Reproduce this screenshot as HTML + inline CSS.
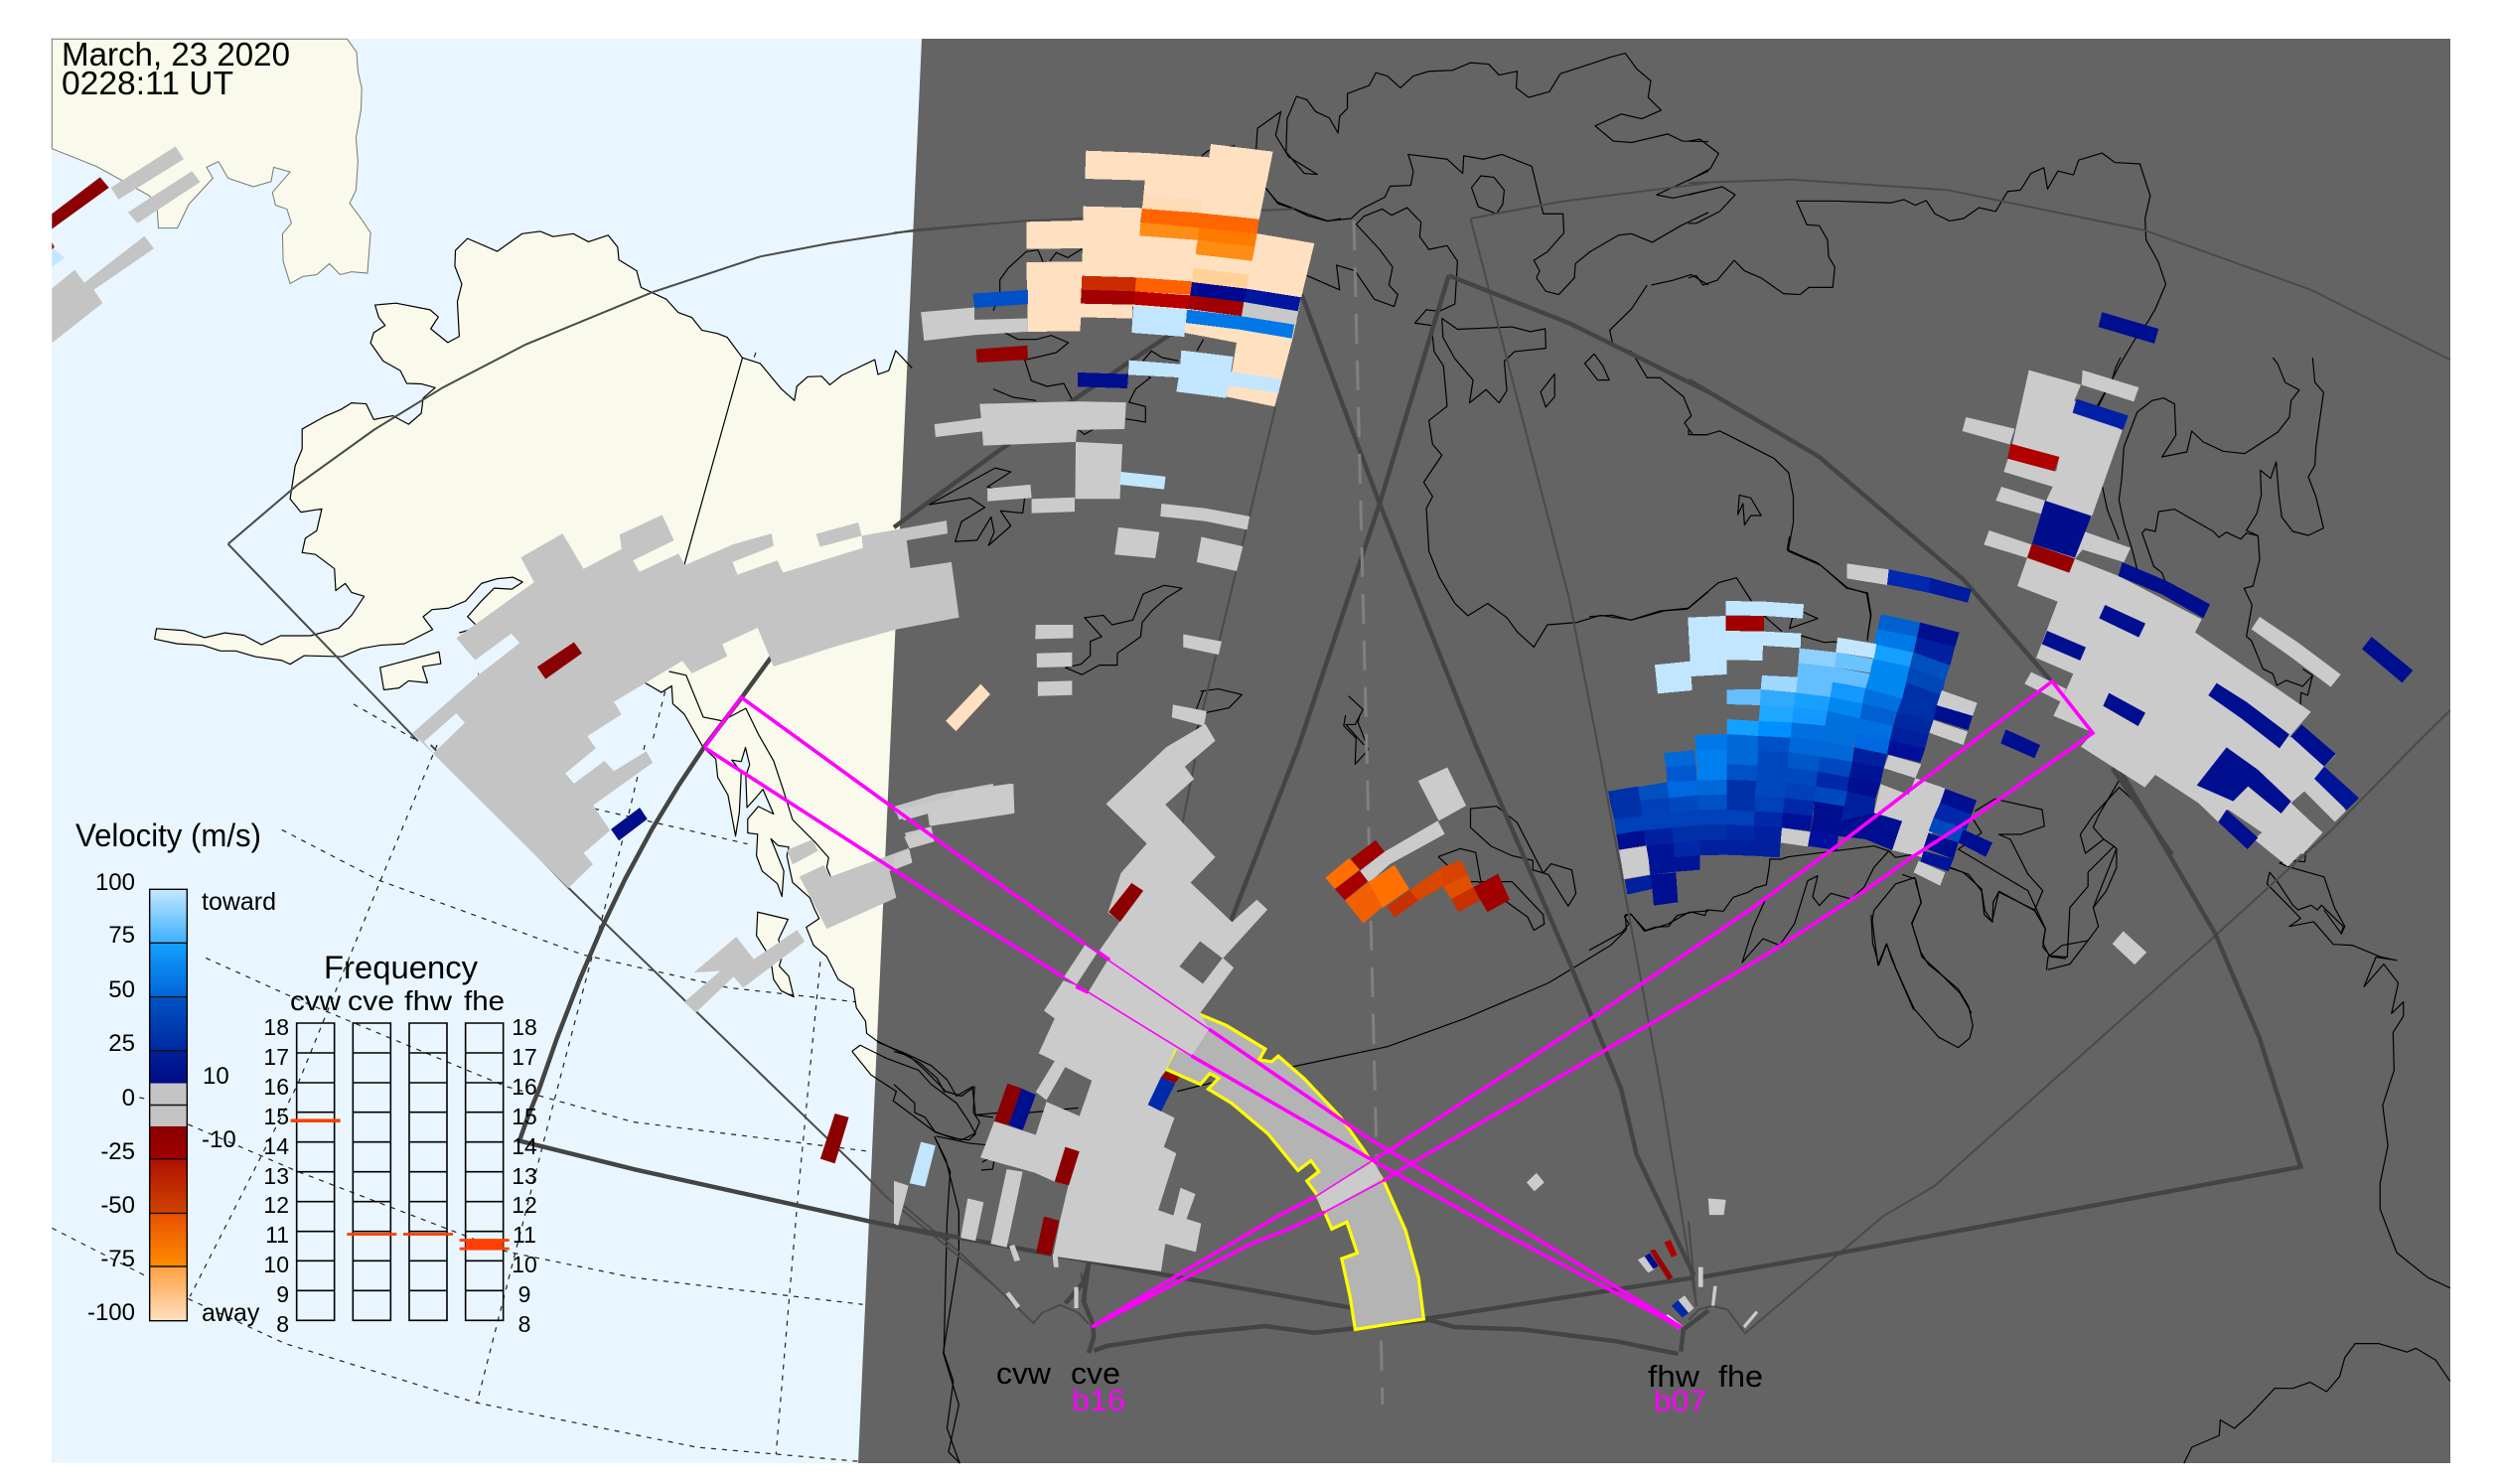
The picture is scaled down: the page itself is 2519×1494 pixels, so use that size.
<!DOCTYPE html>
<html><head><meta charset="utf-8"><title>SuperDARN velocity map</title>
<style>
html,body{margin:0;padding:0;background:#fff}
svg{display:block}
text{font-family:"Liberation Sans",sans-serif;fill:#000}
polyline,.l{fill:none;vector-effect:non-scaling-stroke}
.c polyline,.c polygon{stroke:#000;stroke-width:1.2;fill:none;vector-effect:non-scaling-stroke;stroke-linejoin:round}
.d polyline{stroke:#222;stroke-width:1.2;stroke-dasharray:5 6}
.t polyline{stroke:#4a4a4a;stroke-width:2}
.k polyline{stroke:#444;stroke-width:4.5;stroke-linejoin:miter}
.m polyline{stroke:#f0f;stroke-width:3.6;stroke-linejoin:miter}
.n polyline{stroke:#f0f;stroke-width:1.6}
.g polygon{fill:#cbcbcb}
.h polygon{fill:#c4c4c4}
.x polygon{shape-rendering:crispEdges}
</style></head><body>
<svg width="2519" height="1494" viewBox="0 0 2519 1494" xmlns="http://www.w3.org/2000/svg">
<defs>
<linearGradient id="b1" x1="0" y1="0" x2="0" y2="1"><stop offset="0" stop-color="#c4e8ff"/><stop offset="1" stop-color="#3cb0ff"/></linearGradient>
<linearGradient id="b2" x1="0" y1="0" x2="0" y2="1"><stop offset="0" stop-color="#14a0ff"/><stop offset="1" stop-color="#0066d8"/></linearGradient>
<linearGradient id="b3" x1="0" y1="0" x2="0" y2="1"><stop offset="0" stop-color="#0054c4"/><stop offset="1" stop-color="#0028a0"/></linearGradient>
<linearGradient id="b4" x1="0" y1="0" x2="0" y2="1"><stop offset="0" stop-color="#00209a"/><stop offset="1" stop-color="#000c84"/></linearGradient>
<linearGradient id="b5" x1="0" y1="0" x2="0" y2="1"><stop offset="0" stop-color="#8b0000"/><stop offset="1" stop-color="#a00000"/></linearGradient>
<linearGradient id="b6" x1="0" y1="0" x2="0" y2="1"><stop offset="0" stop-color="#b01000"/><stop offset="1" stop-color="#d04400"/></linearGradient>
<linearGradient id="b7" x1="0" y1="0" x2="0" y2="1"><stop offset="0" stop-color="#e85000"/><stop offset="1" stop-color="#ff8c00"/></linearGradient>
<linearGradient id="b8" x1="0" y1="0" x2="0" y2="1"><stop offset="0" stop-color="#ffa040"/><stop offset="1" stop-color="#ffe0c0"/></linearGradient>
</defs>
<rect width="2519" height="1494" fill="#fff"/>
<rect x="52" y="39" width="2415" height="1434" fill="#e9f6ff"/>

<!-- land -->
<g transform="scale(.63776,.47832)" fill="#f9faeb">
<polygon stroke="#777" stroke-width="1" vector-effect="non-scaling-stroke" points="548,82 563,110 565,150 571,185 570,230 562,290 565,340 562,400 552,428 570,460 585,490 580,575 555,572 537,578 520,555 500,578 478,582 458,597 447,550 446,492 460,470 453,440 435,432 430,405 458,362 432,352 428,382 400,393 360,375 345,340 326,352 336,375 298,430 280,480 250,480 248,435 236,412 152,350 82,313 82,82"/>
<polygon points="1500,770 1440,775 1414,738 1403,780 1386,788 1381,757 1329,790 1310,810 1297,792 1275,793 1258,813 1254,843 1233,818 1200,765 1172,753 1148,710 1133,702 1108,695 1092,668 1071,658 1052,630 1012,605 1005,570 977,547 975,520 960,495 929,509 905,492 873,498 853,487 824,492 785,529 738,502 719,527 718,560 729,598 722,635 725,708 707,721 680,692 692,667 679,652 625,638 592,642 598,668 608,685 590,700 585,722 605,760 632,780 642,807 665,808 687,816 668,838 665,870 645,893 620,875 590,883 578,850 555,848 538,862 512,877 477,903 477,945 466,980 458,1050 475,1078 508,1071 500,1117 482,1133 477,1163 498,1167 528,1197 530,1243 545,1228 555,1247 575,1255 555,1295 535,1322 490,1338 443,1338 413,1357 385,1337 355,1332 323,1342 290,1327 247,1323 244,1345 280,1355 320,1358 348,1370 372,1370 403,1382 445,1390 458,1398 480,1380 540,1382 570,1365 600,1358 638,1355 683,1325 668,1298 682,1283 708,1280 735,1265 760,1228 785,1218 810,1215 825,1225 808,1240 780,1238 760,1265 738,1298 755,1320 725,1332 1018,1437 1500,1500"/>
<polygon points="600,1405 693,1372 696,1397 667,1403 675,1437 645,1433 630,1448 606,1452"/>
</g>
<g transform="translate(400,500) scale(.38265)" fill="#f9faeb">
<polygon points="652,490 695,515 722,498 725,545 755,572 805,660 838,690 843,738 870,785 890,893 900,830 905,725 880,693 905,697 916,660 927,705 917,735 920,818 945,790 962,770 990,835 950,815 922,848 922,885 948,888 945,945 960,985 1000,1018 1012,1052 1017,985 983,900 1002,918 1030,922 1025,945 1040,1015 1085,1055 1100,1090 1110,1110 1076,1133 1095,1180 1130,1210 1160,1270 1200,1295 1208,1345 1232,1380 1235,1412 1262,1432 1320,1460 1500,1568 1500,400"/>
<polygon points="948,1093 1028,1112 1003,1165 1015,1200 1005,1235 1030,1262 1043,1316 1010,1300 990,1270 985,1235 970,1195 945,1155"/>
<polygon points="1195,1458 1222,1443 1300,1470 1300,1560 1225,1500"/>
</g>

<!-- night side -->
<polygon points="928,39 2467,39 2467,1473 864,1473" fill="#646464"/>

<!-- dotted lat/lon grid -->
<g class="d" transform="translate(0,750) scale(.63776,.47449)">
<polyline points="445,180 600,288 920,445 1150,515 1350,545"/>
<polyline points="325,452 470,540 800,725 1000,800 1370,862"/>
<polyline points="220,748 235,752"/>
<polyline points="297,805 470,905 800,1075 1000,1130 1362,1187"/>
<polyline points="82,1025 235,1130"/>
<polyline points="297,1175 450,1270 750,1395 1100,1490 1355,1520"/>
<polyline points="938,135 1180,210"/>
<polyline points="690,0 600,290 470,720 300,1170"/>
<polyline points="1018,0 985,190 870,780 753,1395"/>
<polyline points="1295,460 1260,950 1225,1505"/>
</g>
<g class="d" transform="scale(.63776,.47832)">
<polyline points="558,1482 660,1560"/>
<polyline points="1050,1455 1030,1560"/>
<polyline points="770,1370 755,1420"/>
<polyline points="1193,742 1190,755"/>
</g>

<!-- coastlines -->
<g class="c" transform="scale(.63776,.47832)">
<polyline points="1440,775 1414,738 1403,780 1386,788 1381,757 1329,790 1310,810 1297,792 1275,793 1258,813 1254,843 1233,818 1200,765 1172,753 1148,710 1133,702 1108,695 1092,668 1071,658 1052,630 1012,605 1005,570 977,547 975,520 960,495 929,509 905,492 873,498 853,487 824,492 785,529 738,502 719,527 718,560 729,598 722,635 725,708 707,721 680,692 692,667 679,652 625,638 592,642 598,668 608,685 590,700 585,722 605,760 632,780 642,807 665,808 687,816 668,838 665,870 645,893 620,875 590,883 578,850 555,848 538,862 512,877 477,903 477,945 466,980 458,1050 475,1078 508,1071 500,1117 482,1133 477,1163 498,1167 528,1197 530,1243 545,1228 555,1247 575,1255 555,1295 535,1322 490,1338 443,1338 413,1357 385,1337 355,1332 323,1342 290,1327 247,1323 244,1345 280,1355 320,1358 348,1370 372,1370 403,1382 445,1390 458,1398 480,1380 540,1382 570,1365 600,1358 638,1355 683,1325 668,1298 682,1283 708,1280 735,1265 760,1228 785,1218 810,1215 825,1225 808,1240 780,1238 760,1265 738,1298 755,1320 725,1332"/>
<polygon points="600,1405 693,1372 696,1397 667,1403 675,1437 645,1433 630,1448 606,1452"/>
<polyline points="1172,753 1080,1190"/>
</g>
<g class="c" transform="translate(400,500) scale(.38265)">
<polyline points="652,490 695,515 722,498 725,545 755,572 805,660 838,690 843,738 870,785 890,893 900,830 905,725 880,693 905,697 916,660 927,705 917,735 920,818 945,790 962,770 990,835 950,815 922,848 922,885 948,888 945,945 960,985 1000,1018 1012,1052 1017,985 983,900 1002,918 1030,922 1025,945 1040,1015 1085,1055 1100,1090 1110,1110 1076,1133 1095,1180 1130,1210 1160,1270 1200,1295 1208,1345 1232,1380 1235,1412 1262,1432 1320,1460 1375,1490 1420,1530 1440,1568"/>
<polygon points="948,1093 1028,1112 1003,1165 1015,1200 1005,1235 1030,1262 1043,1316 1010,1300 990,1270 985,1235 970,1195 945,1155"/>
<polyline points="715,460 760,470 805,580 855,590 917,557 950,625 990,695 1015,770 1040,850 1100,910 1135,950 1130,975 1140,1000"/>
</g>
<g class="c" transform="translate(1000,130) scale(.33333)">
<polyline points="0,548 20,500 20,455 45,420 100,370 135,365 150,400"/>
<polyline points="170,400 190,373 225,388 268,362"/>
<polyline points="0,598 45,620 75,635 130,635 175,623 227,645 190,675 105,695 95,697 115,760 163,777 213,768 240,820"/>
<polyline points="0,785 60,810 130,820"/>
<polyline points="255,905 275,922 305,905"/>
<polyline points="400,875 460,885 460,838 410,825 430,785 475,750 430,725 478,670 510,690 560,700"/>
<polyline points="615,670 635,635"/>
<polyline points="630,80 650,65 730,50"/>
<polyline points="825,180 860,225 905,240 950,262 1010,278 1050,270"/>
</g>
<g class="c" transform="translate(900,0) scale(.52296,.47832)">
<polyline points="795,580 858,610 852,558 888,570 900,590 925,630 963,645 970,620 953,600 960,562 935,525 890,472 905,455 940,440 958,453 988,437 1015,468 1012,498 1030,525 1065,517 1085,550 1080,640 1050,655 1025,652 1003,680 1035,685 1040,740 1058,770 1065,855 1030,885 1037,935 1055,958 1020,1015 1037,1045 1025,1070 1030,1160 1050,1215 1080,1270 1105,1296 1143,1270 1180,1300 1200,1330 1232,1362 1258,1315 1315,1310 1360,1295 1420,1305 1485,1285 1530,1280 1568,1245"/>
<polyline points="715,395 738,425 795,450 835,465 880,460 900,440 945,415 955,392 995,390 1000,360 990,325 1065,335 1095,365 1097,328 1135,335 1170,325 1228,350 1250,450 1288,450 1290,490 1258,530 1232,548 1243,570 1237,585 1255,613 1280,620 1310,585 1312,555 1340,530 1395,495 1420,492 1460,510 1515,475 1568,447"/>
<polyline points="1458,600 1500,590 1535,578 1568,600"/>
<polyline points="1450,600 1420,650 1378,695 1385,730 1420,740 1450,795 1475,795 1520,835 1535,875 1522,890 1538,915 1568,915"/>
<polyline points="697,320 700,270 745,235 735,285 760,330 815,367 790,365 755,320 757,250 775,203 795,210 812,235 838,248 855,280 858,245 873,228 873,197 915,180 928,153 950,160 975,185 1000,160 1030,150 1075,148 1110,132 1145,135 1165,158 1200,150 1198,185 1222,205 1262,193 1283,155 1340,135 1380,120 1408,112 1430,145 1457,170 1452,205 1477,232 1440,250 1400,240 1350,265 1385,297 1420,300 1490,282 1518,297 1568,298"/>
<polygon points="1112,395 1130,370 1155,373 1175,400 1172,430 1160,450 1125,435"/>
<polygon points="1330,765 1348,745 1365,770 1377,800 1355,800"/>
<polygon points="1245,825 1272,787 1272,835 1255,857"/>
<polygon points="1055,670 1085,693 1190,688 1225,698 1254,692 1255,733 1195,740 1175,760 1180,822 1165,848 1140,820 1108,848 1115,800 1080,755 1057,710"/>
<polyline points="1568,360 1468,410 1500,417 1568,400"/>
<polygon points="68,1062 147,1048 175,1068 130,1098 118,1140 160,1137 187,1088 193,1120 182,1148 225,1107 205,1075 248,1080 252,1045 180,1025 225,993 195,985 145,1015"/>
<polyline points="555,1238 520,1232 480,1250 460,1305 420,1315 403,1295 367,1300 400,1340 378,1350 378,1380 360,1398 330,1405 362,1420 395,1400 430,1400 430,1375 475,1340 478,1310 497,1285 525,1258 555,1238"/>
<polyline points="590,1455 625,1450 670,1462 645,1490 600,1500 580,1540"/>
<polyline points="595,1455 580,1500"/>
<polyline points="875,1465 903,1493 888,1525 870,1525 905,1568"/>
</g>
<g class="c" transform="translate(960,720) scale(.35714)">
<polyline points="1105,0 1100,30 1135,65 1132,138 1170,97 1140,20 1145,0"/>
</g>
<g class="c" transform="translate(1700,0) scale(.52232,.47832)">
<polyline points="0,380 42,355 58,323 22,293 0,297"/>
<polyline points="0,410 65,393 90,410 60,445 15,470 0,470"/>
<polyline points="208,423 280,423 390,427 415,420 437,432 458,422 475,450 503,465 530,460 560,437 592,445 615,403 640,400 660,365 685,353 692,398 712,360 742,368 752,337 797,322 822,342 870,345 890,412 880,460 882,505 905,550 920,598 900,650 885,678 860,715 830,770 790,855"/>
<polyline points="208,423 228,473 252,475 268,505 270,540 282,562 278,605 232,605 215,620 183,618 140,585 108,570 88,548 55,590 28,600 15,580 0,585"/>
<polygon points="98,1042 120,1048 140,1085 120,1085 108,1105 105,1060 95,1083"/>
<polyline points="0,905 0,915 35,915 60,907 115,937 165,965 193,995 202,1045 202,1100 192,1160 255,1190 305,1238 345,1248 352,1295 345,1340"/>
</g>
<g class="c" transform="translate(1600,540) scale(.33333)">
<polyline points="605,0 598,40 690,80 780,155 838,172 850,240 840,315"/>
<polyline points="0,242 70,238 125,253 215,225 295,220 390,140 445,125 490,195"/>
<polyline points="645,228 690,248 605,278 615,240"/>
<polyline points="528,240 580,285 600,320"/>
<polyline points="640,300 710,320 750,318"/>
<polyline points="0,1250 100,1195 120,1170 106,1148 125,1140 170,1190 200,1180 240,1178 265,1145 310,1135 350,1145 355,1128 405,1132 435,1090 480,1075 500,1062 535,1052 545,990 545,975 580,975 600,968 860,935 905,950"/>
<polyline points="535,1090 495,1180 462,1287 525,1215 575,1235 620,1170 660,1040 690,1025 675,1088 695,1115 730,1078 790,1095 830,1060 860,1000 905,950 925,970 980,960"/>
<polyline points="985,1040 1003,1105 975,1170 1005,1270 1050,1310 1120,1380 1155,1440"/>
<polyline points="985,1030 925,1050 860,1130 855,1160 872,1295 898,1230 915,1280 980,1430"/>
<polyline points="1085,1000 1130,1015 1185,1065 1195,1130 1218,1165 1220,1105 1238,1072 1345,1130 1370,1070 1325,1020 1272,915 1237,900 1305,900 1375,875 1368,825 1225,793 1165,830"/>
<polyline points="1160,855 1185,895 1115,945 1325,1070 1378,1185 1370,1240 1395,1270 1440,1275"/>
<polyline points="1345,1130 1378,1185"/>
</g>
<g class="c" transform="translate(1960,360) scale(.33333)">
<polyline points="525,0 510,30 500,65 455,145"/>
<polyline points="575,165 620,130 655,122 688,140 692,235 650,300 725,285 740,222 775,255 835,283 900,290 1000,225 1035,180 1040,130 1065,98 1022,75 1000,20 985,0"/>
<polyline points="575,165 535,270 528,370 520,430 535,500 560,580 575,640"/>
<polyline points="470,390 485,460 520,550"/>
<polyline points="1105,0 1112,75 1138,105 1115,270 1112,325 1092,360 1115,420 1138,515 1092,537 1045,525 1012,482 1003,415 995,315 978,365 947,340 950,415 937,470 905,522 940,538 945,610 925,690 898,697 922,747 905,842 920,855 955,940 985,955 997,990 1025,975 1075,993 1105,960 1075,940"/>
<polyline points="1105,960 1090,1020 1070,1012 1068,1050"/>
<polyline points="640,465 688,458 805,525 822,543 845,527 860,535 888,548 905,530 940,538"/>
<polyline points="640,465 630,525 600,518 590,530 625,630 650,650 665,690"/>
</g>
<g class="c" transform="translate(1700,750) scale(.52232,.47449)">
<polyline points="412,275 438,285 448,335 430,378 448,440 462,465 490,490 520,518 540,555 548,595 542,622 520,642 482,620 435,560 400,475 382,422 367,467 355,420 352,360"/>
<polyline points="692,477 735,465 770,415 790,385 780,345 825,220 820,215 800,200 765,230 755,190 780,150 830,90 860,120"/>
<polyline points="690,477 693,450 720,425 770,415"/>
<polyline points="683,420 695,447 730,450 735,345 770,300 770,270 820,215"/>
<polyline points="683,420 688,390 667,350 598,312 585,375 570,360 565,310 540,275 500,258"/>
<polyline points="825,220 825,260 805,310 780,345"/>
<polyline points="830,75 790,150 780,175 800,200"/>
<polyline points="1115,295 1120,270 1135,290 1165,340 1175,350 1200,340 1212,350 1220,340 1262,385 1258,400 1225,350"/>
<polyline points="1138,250 1155,258 1225,280 1245,345 1265,385 1258,402"/>
<polyline points="1190,225 1188,248 1155,245 1140,250"/>
<polyline points="1115,295 1160,345 1180,368 1158,385 1205,375 1243,423 1280,425 1335,450 1365,457 1325,450 1302,513 1340,465 1368,505 1355,570 1378,545 1378,575 1358,610 1360,690 1338,765 1348,850 1333,930 1333,985 1365,1077 1425,1130 1468,1152"/>
<polyline points="955,1524 970,1490 1023,1465 1025,1432 1052,1450 1083,1420 1130,1365 1165,1365 1198,1352 1230,1372 1255,1340 1265,1300 1285,1270 1330,1270 1385,1288 1402,1280 1440,1305 1468,1350"/>
</g>
<g class="c" transform="translate(900,750) scale(.52296,.47449)">
<polyline points="0,650 30,660 60,690 100,735 130,745 155,725 153,780 165,800 155,825 130,838 80,822 60,790 40,780 40,760 0,720"/>
<polyline points="80,835 100,880 125,990 125,1080 95,1290 125,1400 105,1500 127,1524"/>
<polyline points="155,785 205,780 260,780 355,770"/>
<polyline points="545,735 630,712 770,682 950,640 1100,580 1260,505 1380,425 1410,392 1408,360 1420,360 1445,395 1490,380 1530,355 1568,352"/>
<polygon points="1110,135 1160,130 1200,165 1250,272 1265,252 1305,265 1313,315 1298,342 1260,275 1230,265 1230,245 1190,235 1150,215 1110,175"/>
<polyline points="1048,237 1090,220 1120,228 1130,290 1190,290 1250,360 1252,380 1232,393 1220,365 1125,290 1100,290 1075,265 1048,237"/>
<polyline points="170,885 195,870 190,900 168,902"/>
</g>
<g class="c" transform="translate(0,750) scale(.63776,.47449)">
<polyline points="1345,650 1358,637 1400,665 1450,690 1470,720 1510,760 1530,800 1540,825 1530,838 1505,835 1475,820 1445,790 1410,755 1415,735 1375,700 1345,650"/>
<polyline points="1385,630 1430,655 1470,680 1495,710 1510,745 1535,725 1540,785 1568,790"/>
<polyline points="1478,830 1530,845 1568,850"/>
<polyline points="1475,830 1500,905 1495,1010 1490,1290 1505,1350 1495,1450 1515,1524"/>
</g>

<!-- thin FOV -->
<g class="t">
<g transform="scale(.63776,.47832)">
<polyline points="360,1145 470,1020 590,905 700,815 830,725 1030,615 1200,540 1310,512 1450,483 1568,470"/>
<polyline points="360,1145 660,1560"/>
</g>
<g transform="translate(0,750) scale(.63776,.47449)">
<polyline points="680,0 895,300 1360,905 1400,960 1568,1145"/>
</g>
<g transform="translate(900,0) scale(.52296,.47832)">
<polyline points="0,490 250,465 770,440"/>
<polyline points="735,855 600,1470 580,1568"/>
<polyline points="1110,460 1300,1260 1355,1568"/>
<polyline points="1110,460 1280,425 1568,385"/>
</g>
<g transform="translate(1700,0) scale(.52232,.47832)">
<polyline points="0,385 200,378 500,400 880,485 1200,610 1468,757"/>
<polyline points="1468,1495 1400,1568"/>
</g>
<g transform="translate(900,750) scale(.52296,.47449)">
<polyline points="0,960 130,1080 270,1228"/>
<polyline points="580,30 555,170"/>
<polyline points="268,1228 285,1205 320,1188 355,1205 375,1228"/>
<polyline points="1355,0 1430,450 1480,750 1545,1190"/>
<polyline points="360,1120 370,1180"/>
</g>
<g transform="translate(1700,750) scale(.52232,.47449)">
<polyline points="1400,0 1240,180 1000,420 475,935 375,1000 107,1250"/>
<polyline points="0,1220 20,1198 45,1190 75,1198 107,1245"/>
<polyline points="0,1010 15,1190"/>
</g>
</g>

<!-- thick FOV -->
<g class="k">
<g transform="translate(0,750) scale(.63776,.47449)">
<polyline points="849,737 833,790 820,840 1000,900 1370,1010 1500,1045"/>
</g>
<g transform="translate(900,0) scale(.52296,.47832)">
<polyline points="0,1110 200,950 530,705 785,600"/>
<polyline points="785,620 935,1060 1120,1568"/>
<polyline points="1068,580 935,1060 780,1568"/>
<polyline points="1068,580 1300,680 1568,825"/>
</g>
<g transform="translate(400,500) scale(.38265)">
<polyline points="1000,400 905,530 810,655 740,760 670,875 600,1005 540,1130 480,1270 420,1425 370,1568"/>
</g>
<g transform="translate(1700,0) scale(.52232,.47832)">
<polyline points="0,800 250,960 530,1220 700,1435"/>
</g>
<g transform="translate(1960,360) scale(.33333)">
<polyline points="500,1240 680,1500"/>
</g>
<g transform="translate(1700,750) scale(.52232,.47449)">
<polyline points="830,50 1015,400 1100,620 1180,895 280,1080 20,1130"/>
</g>
<g transform="translate(900,750) scale(.52296,.47449)">
<polyline points="780,0 650,370 600,500 375,1100 365,1180 382,1225 385,1255 375,1290"/>
<polyline points="0,1020 500,1120 885,1195"/>
<polyline points="1120,0 1300,460 1400,730 1430,870 1540,1125"/>
<polyline points="1020,1218 1540,1130"/>
<polyline points="385,1285 410,1275 560,1250 715,1233 810,1247 885,1238 1030,1220 1080,1235 1210,1240 1390,1265 1510,1292"/>
<polyline points="375,1100 365,1140 330,1185"/>
<polyline points="1515,1287 1520,1240 1568,1200"/>
</g>
</g>

<!-- noon dashed -->
<polyline points="1363,222 1392,1414" fill="none" stroke="#808080" stroke-width="3" stroke-dasharray="30 17"/>

<!-- top-left cells -->
<g class="h" transform="scale(.63776,.47832)">
<polygon style="fill:#8b0000" points="82,450 158,373 172,395 82,482"/>
<polygon points="175,395 277,308 290,335 187,420"/>
<polygon points="202,447 303,360 316,383 217,470"/>
<polygon points="82,607 118,568 133,595 228,497 243,523 148,610 162,638 82,722"/>
<polygon style="fill:#c2e6ff" points="82,520 102,543 82,562"/>
<polygon style="fill:#b00000" points="82,510 86,520 82,525"/>
</g>

<!-- Alaska cells -->
<g class="h" transform="translate(400,500) scale(.38265)">
<path fill="#c4c4c4" fill-rule="evenodd" d="M155,372 360,225 325,160 435,97 490,190 590,138 585,100 697,48 728,115 620,168 637,198 740,150 757,180 885,125 985,97 990,130 882,172 895,205 1000,168 1015,200 1225,135 1222,103 1445,63 1448,97 1340,115 1350,188 1458,172 1478,318 1310,350 1150,395 990,447 948,345 855,388 868,420 775,465 750,432 570,540 590,573 500,630 522,662 442,728 465,755 545,695 570,722 655,670 672,700 515,812 560,878 490,938 515,967 450,1030 40,622 215,468 205,430ZM70,645 155,570 178,595 95,675Z"/>
<polygon points="1102,98 1213,68 1222,103 1112,132"/>
<polygon style="fill:#e9f6ff" points="205,430 300,360 322,385 215,468"/>
<polygon style="fill:#8b0000" points="368,448 465,383 486,412 390,480"/>
<polygon style="fill:#000e8b" points="562,875 638,818 658,848 583,905"/>
<polygon style="fill:#ffe0c0" points="1443,590 1535,493 1560,520 1470,617"/>
<polygon points="1308,815 1420,782 1568,755 1570,833 1480,842 1400,865 1395,832 1320,850"/>
<polygon points="1335,885 1405,868 1412,900 1350,920"/>
<polygon points="1058,1000 1122,970 1140,1000 1345,925 1355,960 1295,985 1313,1055 1130,1137 1098,1075"/>
<polygon points="1025,930 1092,902 1107,932 1040,968"/>
<polygon points="780,1252 892,1158 938,1217 1052,1140 1072,1170 910,1292 885,1263 785,1358 755,1330 850,1248"/>
</g>

<!-- top patch -->
<g class="x" transform="translate(1000,130) scale(.33333)">
<polygon fill="#ffe0c0" points="280,65 465,72 652,85 657,45 845,68 803,275 450,240 458,155 277,150"/>
<polygon fill="#ffe0c0" points="100,280 272,276 272,233 450,238 444,282 620,300 611,378 782,398 795,315 970,345 930,510 905,630 850,838 703,808 720,735 735,645 578,615 585,545 420,535 420,572 265,568 262,610 105,612 100,402 268,400 270,360 100,362"/>
<polygon fill="#ffdcb8" points="455,200 632,212 628,252 450,240"/>
<polygon fill="#ff6600" points="450,240 623,253 803,272 797,315 620,298 445,282"/>
<polygon fill="#ff8c14" points="445,282 622,298 617,335 442,322"/>
<polygon fill="#ffe0c0" points="442,322 617,335 611,378 440,360"/>
<polygon fill="#ff7b00" points="622,298 797,315 790,356 617,335"/>
<polygon fill="#ff8c14" points="617,335 790,356 782,398 611,378"/>
<polygon fill="#ffd098" points="605,420 772,440 765,480 600,462"/>
<polygon fill="#cc2a00" points="268,443 432,448 430,490 266,485"/>
<polygon fill="#ff6000" points="432,448 600,460 594,500 428,490"/>
<polygon fill="#00088f" points="600,462 765,482 757,522 594,502"/>
<polygon fill="#0015a0" points="765,482 930,508 920,550 757,522"/>
<polygon fill="#a00000" points="266,485 430,490 425,530 264,527"/>
<polygon fill="#b80000" points="428,490 594,502 590,543 425,530"/>
<polygon fill="#a00000" points="594,502 757,522 750,565 590,543"/>
<polygon fill="#c8c8c8" points="757,522 920,550 915,590 750,565"/>
<polygon fill="#c2e6ff" points="423,533 585,545 577,627 418,615"/>
<polygon fill="#0078e8" points="585,545 750,565 910,590 902,632 742,605 582,585"/>
<polygon fill="#c2e6ff" points="568,668 725,687 718,733 870,755 862,797 712,775 703,812 553,793 560,750 408,742 410,698 565,710"/>
<polygon fill="#000e90" points="255,735 408,740 405,783 255,778"/>
</g>
<g class="g" transform="translate(900,0) scale(.52296,.47832)">
<polygon style="fill:#0050c8" points="152,618 258,610 258,640 155,648"/>
<polygon points="52,657 155,647 155,673 258,670 258,698 155,705 58,717"/>
<polygon style="fill:#950000" points="158,735 257,727 258,757 160,763"/>
<polygon points="78,893 168,880 165,850 350,845 447,847 444,903 352,905 350,930 172,938 170,908 80,920"/>
<polygon points="350,930 440,935 435,1050 349,1050"/>
<polygon style="fill:#c2e6ff" points="437,993 523,1003 520,1030 435,1020"/>
<polygon points="180,1028 263,1020 265,1048 180,1055"/>
<polygon points="265,1050 348,1047 348,1077 265,1080"/>
<polygon points="515,1060 600,1070 685,1087 680,1115 600,1097 513,1087"/>
<polygon points="432,1110 511,1120 503,1175 425,1167"/>
<polygon points="592,1130 672,1150 660,1202 583,1183"/>
<polygon points="273,1315 345,1315 345,1343 272,1345"/>
<polygon points="275,1375 343,1373 343,1403 275,1405"/>
<polygon points="277,1435 343,1433 343,1463 277,1465"/>
<polygon points="557,1335 631,1350 625,1378 557,1362"/>
<polygon points="537,1483 602,1497 597,1528 535,1510"/>
</g>

<!-- yellow region -->
<polygon transform="translate(900,750) scale(.52296,.47449)" fill="#b4b4b4" stroke="#ff0" stroke-width="3.2" stroke-linejoin="miter" style="vector-effect:non-scaling-stroke" points="570,563 640,595 715,645 703,668 727,672 740,660 790,708 860,790 905,860 945,930 985,1030 1010,1130 1020,1218 888,1240 878,1170 862,1090 892,1078 872,1012 843,1027 815,955 795,925 818,905 803,882 778,903 720,825 650,760 605,730 625,707 608,697 590,720 522,687 542,645"/>

<!-- central cells -->
<g class="g" transform="translate(960,720) scale(.35714)">
<polygon points="710,25 738,72 652,145 678,180 597,252 738,400 668,472 785,583 855,520 885,548 760,685 790,712 695,840 720,885 672,960 625,940 597,1005 548,1098 623,1135 593,1217 628,1235 577,1395 620,1410 640,1332 682,1350 657,1420 698,1433 683,1513 597,1490 585,1568 280,1525 300,1425 325,1320 285,1315 230,1290 76,1247 115,1145 232,1183 262,1090 355,1130 390,1030 315,992 285,975 240,953 285,855 255,833 310,748 345,762 380,780 435,690 410,665 470,580 435,557 472,445 545,362 430,250 600,90"/>
<polygon style="fill:#646464" points="637,708 695,637 758,685 703,757"/>
<polygon points="310,740 372,645 405,670 345,762"/>
<polygon points="232,1062 285,975 315,992 262,1085"/>
<polygon points="150,1280 195,1287 150,1500 105,1490"/>
<polygon points="40,1362 85,1373 62,1482 20,1473"/>
<polygon style="fill:#8b0000" points="115,1145 152,1038 192,1052 155,1155"/>
<polygon style="fill:#000e90" points="155,1155 192,1052 232,1070 195,1170"/>
<polygon style="fill:#8b0000" points="285,1315 315,1217 355,1230 325,1325"/>
<polygon style="fill:#8b0000" points="233,1515 255,1413 298,1425 275,1523"/>
<polygon style="fill:#002aa8" points="548,1098 585,1020 625,1038 585,1117"/>
<polygon style="fill:#950000" points="585,1020 597,1005 637,1020 625,1037"/>
<polygon style="fill:#8b0000" points="437,555 502,473 535,495 470,582"/>
<polygon points="0,215 162,193 172,273 0,298"/>
<polygon points="1020,1355 1185,1260 1210,1305 1045,1400"/>
<polygon points="1145,440 1215,385 1365,298 1385,335 1230,420 1180,465 1165,470"/>
<polygon points="1310,185 1392,147 1445,255 1368,298"/>
<polygon style="fill:#a00000" points="1120,405 1190,352 1215,385 1145,437"/>
<polygon style="fill:#ff6e00" points="1048,458 1115,403 1145,435 1075,490"/>
<polygon style="fill:#a80000" points="1075,490 1145,438 1168,468 1103,522"/>
<polygon style="fill:#f06000" points="1103,522 1170,470 1210,540 1155,587"/>
<polygon style="fill:#ff7000" points="1170,470 1243,422 1285,490 1210,543"/>
<polygon style="fill:#c83000" points="1222,540 1285,493 1310,523 1243,570"/>
<polygon style="fill:#d84800" points="1285,493 1375,430 1395,475 1310,523"/>
<polygon style="fill:#d84400" points="1375,430 1430,408 1450,450 1380,483"/>
<polygon style="fill:#e05000" points="1380,483 1450,450 1465,485 1403,518"/>
<polygon style="fill:#c83000" points="1403,518 1465,485 1487,520 1423,555"/>
<polygon style="fill:#a00000" points="1465,485 1535,447 1568,520 1505,555"/>
</g>
<g class="g" transform="translate(900,750) scale(.52296,.47449)">
<polygon points="0,140 110,110 230,82 232,145 70,172 68,145 20,160"/>
<polygon points="20,195 70,175 78,205 30,220"/>
<polygon points="0,235 30,222 35,250 0,265"/>
<polygon style="fill:#c2e6ff" points="52,842 80,850 60,937 30,930"/>
<polygon points="0,925 28,935 8,1020 0,1015"/>
<polygon points="222,1063 232,1060 243,1093 232,1096"/>
<polygon points="215,1165 222,1160 243,1190 236,1196"/>
<polygon points="347,1150 355,1150 355,1195 347,1195"/>
<polygon points="305,1080 315,1080 317,1108 308,1108"/>
<polygon points="1218,928 1237,908 1252,928 1233,947"/>
<polygon points="1550,1108 1557,1108 1557,1150 1550,1150"/>
<polygon points="1432,1092 1445,1085 1465,1112 1452,1120"/>
<polygon style="fill:#000e90" points="1445,1085 1455,1078 1472,1105 1462,1112"/>
<polygon style="fill:#a00000" points="1455,1073 1465,1070 1500,1130 1490,1135"/>
<polygon style="fill:#b00000" points="1483,1055 1495,1050 1508,1082 1497,1087"/>
<polygon style="fill:#0028a8" points="1497,1190 1510,1178 1530,1205 1518,1215"/>
<polygon points="1510,1178 1522,1168 1540,1195 1530,1205"/>
<polygon style="fill:#e8d8e8" points="1480,1215 1490,1208 1518,1232 1510,1240"/>
</g>
<g class="g" transform="translate(1700,750) scale(.52232,.47449)">
<polygon points="19,1108 28,1108 28,1150 19,1150"/>
<polygon points="48,1148 55,1148 50,1190 44,1190"/>
<polygon points="105,1232 130,1200 134,1205 109,1238"/>
<polygon points="817,422 838,395 883,440 860,466"/>
<polygon points="38,962 72,965 68,997 40,997"/>
</g>
<g transform="translate(0,750) scale(.63776,.47449)">
<polygon fill="#8b0000" points="1318,782 1340,790 1318,888 1295,878"/>
</g>

<!-- blue patch -->
<g class="x" transform="translate(1600,540) scale(.33333)">
<polygon fill="#c2e6ff" points="412,195 530,197 648,205 645,248 530,240 412,238"/>
<polygon fill="#c2e6ff" points="298,245 412,240 412,285 528,287 640,293 638,337 525,330 523,375 415,373 415,417 308,423 311,465 207,475 198,388 305,377 300,285"/>
<polygon fill="#a00000" points="412,240 528,240 528,287 412,285"/>
<polygon fill="#000e90" points="1000,260 1118,290 1105,333 990,305"/>
<polygon fill="#0020a0" points="990,305 1105,333 1090,390 980,350"/>
<polygon fill="#0050c0" points="980,350 1090,390 1075,435 968,395"/>
<polygon fill="#0048b8" points="968,395 1075,435 1065,480 955,440"/>
<polygon fill="#0030a8" points="955,440 1065,480 1050,525 945,490"/>
<polygon fill="#0030a8" points="945,490 1050,525 1040,560 930,530"/>
<polygon fill="#0028a0" points="930,530 1040,560 1025,600 918,575"/>
<polygon fill="#0020a0" points="918,575 1025,600 1015,640 908,615"/>
<polygon fill="#00109a" points="908,615 1015,640 1000,683 900,658"/>
<polygon fill="#0060d0" points="882,235 1000,260 990,303 870,280"/>
<polygon fill="#0078e8" points="870,280 990,303 978,350 860,325"/>
<polygon fill="#14a0ff" points="860,325 978,350 968,393 855,370"/>
<polygon fill="#0088f0" points="855,370 968,393 958,438 848,415"/>
<polygon fill="#0088f0" points="848,415 958,438 945,490 835,460"/>
<polygon fill="#0070e0" points="835,460 945,490 930,530 825,505"/>
<polygon fill="#0060d0" points="825,505 930,530 918,573 818,550"/>
<polygon fill="#0070e0" points="818,550 918,573 908,615 808,595"/>
<polygon fill="#0068e0" points="808,595 908,615 900,658 800,637"/>
<polygon fill="#0020a0" points="800,637 900,658 890,700 795,680"/>
<polygon fill="#001498" points="795,680 890,700 880,745 785,727"/>
<polygon fill="#000e90" points="785,727 880,745 865,790 780,770"/>
<polygon fill="#c2e6ff" points="750,305 868,325 860,368 745,350"/>
<polygon fill="#6cc4ff" points="745,350 858,370 848,412 740,395"/>
<polygon fill="#64beff" points="740,395 848,415 835,458 735,440"/>
<polygon fill="#1498ff" points="735,440 835,458 825,505 725,485"/>
<polygon fill="#0088f0" points="725,485 825,505 818,550 720,527"/>
<polygon fill="#0070dd" points="720,527 818,550 808,595 712,572"/>
<polygon fill="#0070dd" points="712,572 808,595 798,637 705,618"/>
<polygon fill="#0068d8" points="705,618 798,637 795,680 697,665"/>
<polygon fill="#0048c0" points="697,665 795,680 785,727 690,710"/>
<polygon fill="#0028a8" points="690,710 785,727 780,770 685,755"/>
<polygon fill="#0048c0" points="685,755 780,770 770,815 680,800"/>
<polygon fill="#000e90" points="680,800 770,815 760,860 677,845"/>
<polygon fill="#000e90" points="677,845 760,860 752,905 668,890"/>
<polygon fill="#0010a0" points="668,890 752,905 748,948 660,935"/>
<polygon fill="#90d0ff" points="635,338 747,350 742,395 632,382"/>
<polygon fill="#64beff" points="632,382 742,395 735,440 628,425"/>
<polygon fill="#64beff" points="628,425 735,440 728,485 622,472"/>
<polygon fill="#18a0ff" points="622,472 728,485 720,527 618,515"/>
<polygon fill="#1498ff" points="618,515 720,527 712,572 612,562"/>
<polygon fill="#0070e0" points="612,562 712,572 705,618 608,608"/>
<polygon fill="#0068d8" points="608,608 705,618 697,665 602,652"/>
<polygon fill="#0058c8" points="602,652 697,665 690,710 600,698"/>
<polygon fill="#0048c0" points="600,698 690,710 685,755 595,742"/>
<polygon fill="#0040b8" points="595,742 685,755 680,800 590,790"/>
<polygon fill="#0028a8" points="590,790 680,800 675,845 585,835"/>
<polygon fill="#00109a" points="585,835 675,845 667,890 582,880"/>
<polygon fill="#cbcbcb" points="582,880 668,893 660,937 578,925"/>
<polygon fill="#a0d8ff" points="522,420 630,425 625,472 518,462"/>
<polygon fill="#30aaff" points="518,462 622,472 618,515 516,510"/>
<polygon fill="#20a8ff" points="516,510 618,515 612,562 512,558"/>
<polygon fill="#0090ff" points="512,558 612,562 608,608 510,603"/>
<polygon fill="#0050c8" points="510,603 608,608 602,652 510,648"/>
<polygon fill="#0048c0" points="510,648 602,652 600,698 508,692"/>
<polygon fill="#0048c0" points="508,692 600,698 595,742 505,738"/>
<polygon fill="#0048c0" points="505,738 595,742 590,790 500,785"/>
<polygon fill="#0040b8" points="500,785 590,790 585,835 500,830"/>
<polygon fill="#0028a8" points="500,830 585,835 582,880 498,875"/>
<polygon fill="#0020a0" points="498,875 582,880 578,925 497,920"/>
<polygon fill="#0020a0" points="497,920 578,925 575,970 497,965"/>
<polygon fill="#64beff" points="415,463 518,462 516,510 415,507"/>
<polygon fill="#14a0ff" points="415,552 512,558 510,603 415,597"/>
<polygon fill="#0068d8" points="415,597 510,603 510,648 415,643"/>
<polygon fill="#0068d8" points="415,643 510,648 508,692 415,688"/>
<polygon fill="#0050c8" points="415,688 508,692 505,738 415,735"/>
<polygon fill="#0030a8" points="415,735 505,738 500,785 415,780"/>
<polygon fill="#0030a8" points="415,780 500,785 500,830 415,825"/>
<polygon fill="#0040b8" points="415,825 500,830 498,875 415,870"/>
<polygon fill="#0028a8" points="415,870 498,875 497,920 413,917"/>
<polygon fill="#0020a0" points="413,917 497,920 497,965 413,962"/>
<polygon fill="#0078e8" points="318,600 415,597 415,643 322,645"/>
<polygon fill="#0080f0" points="322,645 415,643 415,688 325,690"/>
<polygon fill="#0080f0" points="325,690 415,688 415,735 325,737"/>
<polygon fill="#0068d8" points="325,737 415,735 415,780 327,782"/>
<polygon fill="#0050c8" points="327,782 415,780 415,825 330,827"/>
<polygon fill="#0040b8" points="330,827 415,825 415,870 330,872"/>
<polygon fill="#0030a8" points="330,872 415,870 413,917 333,918"/>
<polygon fill="#0020a0" points="333,918 413,917 413,962 335,963"/>
<polygon fill="#0068d8" points="225,655 318,645 322,690 232,697"/>
<polygon fill="#0058d0" points="232,697 322,690 325,737 235,742"/>
<polygon fill="#0068e0" points="235,742 325,737 327,782 240,790"/>
<polygon fill="#0048c0" points="240,790 327,782 330,827 245,835"/>
<polygon fill="#0040b8" points="245,835 330,827 330,872 250,880"/>
<polygon fill="#0030a8" points="250,880 330,872 333,918 255,927"/>
<polygon fill="#0028a8" points="255,927 333,918 335,963 257,970"/>
<polygon fill="#001498" points="257,970 335,963 335,1007 262,1013"/>
<polygon fill="#0050c0" points="147,757 235,742 240,790 155,797"/>
<polygon fill="#0040b8" points="155,797 240,790 245,835 160,843"/>
<polygon fill="#0040b8" points="160,843 245,835 250,880 165,888"/>
<polygon fill="#0020a0" points="165,888 250,880 255,927 173,935"/>
<polygon fill="#00149a" points="173,935 255,927 257,970 180,980"/>
<polygon fill="#001498" points="180,980 257,970 262,1013 185,1022"/>
<polygon fill="#000e90" points="185,1022 262,1015 265,1060 190,1065"/>
<polygon fill="#000e90" points="190,1065 265,1060 268,1105 195,1115"/>
<polygon fill="#0030a8" points="57,770 147,755 155,800 65,812"/>
<polygon fill="#0030a8" points="65,812 155,800 160,843 75,855"/>
<polygon fill="#0040b8" points="75,855 160,843 165,888 82,900"/>
<polygon fill="#000e90" points="82,900 165,888 172,933 90,947"/>
<polygon fill="#cbcbcb" points="90,947 172,935 180,980 98,990"/>
<polygon fill="#cbcbcb" points="98,990 180,980 183,1022 105,1035"/>
<polygon fill="#0020a0" points="108,1037 185,1023 190,1065 115,1082"/>
<polygon fill="#cbcbcb" points="778,82 905,100 900,147 778,127"/>
<polygon fill="#0028b0" points="905,100 1030,125 1025,170 900,145"/>
<polygon fill="#001c9c" points="1030,125 1155,160 1143,200 1025,170"/>
<polygon fill="#cbcbcb" points="1065,465 1172,503 1158,542 1050,510"/>
<polygon fill="#000e90" points="1050,510 1158,542 1145,585 1040,552"/>
<polygon fill="#cbcbcb" points="1040,555 1143,590 1130,630 1027,593"/>
<polygon fill="#cbcbcb" points="905,660 1003,688 985,730 890,700"/>
<polygon fill="#cbcbcb" points="880,748 965,780 985,730 1078,762 1050,860 1025,925 1010,970 915,948 945,860 860,835"/>
<polygon fill="#0020a0" points="770,815 780,770 865,790 860,835 760,860"/>
<polygon fill="#000e90" points="760,860 860,835 945,860 915,948 835,915 750,905"/>
<polygon fill="#000e90" points="1075,762 1170,797 1155,840 1060,805"/>
<polygon fill="#0028a8" points="1060,805 1155,840 1140,885 1040,850"/>
<polygon fill="#0048c0" points="1040,850 1140,885 1115,925 1025,890"/>
<polygon fill="#000e90" points="1025,895 1115,925 1100,975 1010,940"/>
<polygon fill="#00149a" points="1010,950 1100,975 1085,1012 1000,982"/>
<polygon fill="#000e90" points="1130,885 1218,925 1198,968 1115,925"/>
<polygon fill="#cbcbcb" points="995,980 1075,1015 1060,1055 980,1015"/>
</g>

<!-- right patch -->
<g transform="translate(1700,0) scale(.52232,.47832)"><polygon fill="#000e90" points="797,657 906,692 898,723 790,688"/></g>
<g class="g" transform="translate(1700,750) scale(.52232,.47449)">
<polygon points="1222,185 1155,258 1090,200 1165,130"/>
</g>
<g class="g" transform="translate(1960,360) scale(.33333)">
<polygon points="248,38 405,82 385,130 530,220 440,475 415,525 555,575 535,618 410,580 387,608 520,660 770,790 750,830 1100,1070 1035,1145 1175,1200 1140,1235 1205,1370 1172,1402 1080,1310 1040,1345 1135,1435 1075,1500 945,1430 850,1365 820,1403 760,1345 630,1260 598,1298 405,1175 442,1133 322,1082 362,1000 382,955 270,907 335,737 213,690 243,605 285,472 300,432 320,390 340,300 198,262"/>
<polygon points="410,38 580,90 565,133 407,82"/>
<polygon points="47,222 58,180 205,215 190,262"/>
<polygon points="172,345 185,305 335,345 320,390"/>
<polygon points="148,432 165,390 298,432 285,472"/>
<polygon points="112,565 128,522 257,565 242,605"/>
<polygon points="235,985 255,950 360,1000 345,1040"/>
<polygon points="945,783 1060,860 1190,957 1160,995 1040,905 920,820"/>
<polygon style="fill:#0020a8" points="392,125 548,175 533,218 380,167"/>
<polygon style="fill:#b00000" points="193,260 340,300 325,343 183,305"/>
<polygon style="fill:#000e8e" points="297,432 437,478 387,605 257,562"/>
<polygon style="fill:#950000" points="257,562 387,607 370,650 243,605"/>
<polygon style="fill:#000e8e" points="530,618 665,675 795,745 775,787 650,715 518,660"/>
<polygon style="fill:#000e90" points="478,747 600,803 580,845 460,787"/>
<polygon style="fill:#000e90" points="303,825 420,875 403,915 287,865"/>
<polygon style="fill:#000e90" points="490,1013 600,1073 578,1113 472,1052"/>
<polygon style="fill:#000e90" points="815,983 905,1040 1035,1138 1005,1180 890,1090 790,1020"/>
<polygon style="fill:#000e90" points="1072,1108 1175,1197 1140,1235 1040,1145"/>
<polygon style="fill:#001498" points="1140,1235 1245,1330 1208,1367 1110,1272"/>
<polygon style="fill:#000e90" points="845,1177 940,1245 1040,1340 1010,1377 910,1295 865,1340 755,1292"/>
<polygon style="fill:#000e90" points="845,1365 940,1450 908,1485 820,1403"/>
<polygon style="fill:#000e90" points="178,1123 282,1170 265,1210 163,1165"/>
<polygon style="fill:#000e90" points="1283,843 1408,945 1375,982 1254,880"/>
</g>

<!-- magenta beams -->
<g class="m" transform="translate(400,500) scale(.38265)">
<polyline points="808,660 905,528 1568,1010"/>
<polyline points="808,660 1568,1150"/>
</g>
<g class="m" transform="translate(960,720) scale(.35714)">
<polyline points="0,385 370,645"/>
<polyline points="405,665 440,690"/>
<polyline points="0,545 310,738"/>
<polyline points="345,765 380,782"/>
<polyline points="720,885 1180,1200"/>
<polyline points="670,960 1190,1260"/>
</g>
<g class="n" transform="translate(960,720) scale(.35714)">
<polyline points="370,645 720,885"/>
<polyline points="310,738 670,960"/>
</g>
<g class="m" transform="translate(900,750) scale(.52296,.47449)">
<polyline points="920,839 1186,1013 1480,1210 1515,1235"/>
<polyline points="927,885 1186,1044 1480,1215 1515,1238"/>
</g>
<g class="m">
<polyline points="1384,1167 1402,1156 1610,1020 1763,915 1845,855 1930,790 2066,686 2107,738 1987,823 1925,863 1877,897 1777,962 1680,1020 1423,1170 1392,1189"/>
<polyline points="1324,1205 1289,1223 1192,1280 1099,1336 1206,1280 1260,1252 1296,1238 1334,1220"/>
</g>
<g class="n">
<polyline points="1384,1167 1324,1205"/>
<polyline points="1392,1189 1334,1220"/>
</g>

<!-- colour bar -->
<g transform="translate(60,800) scale(.33333,.35714)">
<rect x="272" y="267" width="113" height="151" fill="url(#b1)"/>
<rect x="272" y="418" width="113" height="152" fill="url(#b2)"/>
<rect x="272" y="570" width="113" height="152" fill="url(#b3)"/>
<rect x="272" y="722" width="113" height="92" fill="url(#b4)"/>
<rect x="272" y="814" width="113" height="121" fill="#c4c4c4"/>
<rect x="272" y="935" width="113" height="92" fill="url(#b5)"/>
<rect x="272" y="1027" width="113" height="153" fill="url(#b6)"/>
<rect x="272" y="1180" width="113" height="150" fill="url(#b7)"/>
<rect x="272" y="1330" width="113" height="153" fill="url(#b8)"/>
<rect x="272" y="267" width="113" height="1216" fill="none" stroke="#000" stroke-width="1.4" style="vector-effect:non-scaling-stroke"/>
<g stroke="#111" stroke-width="1.4">
<line x1="272" x2="385" y1="418" y2="418" style="vector-effect:non-scaling-stroke"/>
<line x1="272" x2="385" y1="570" y2="570" style="vector-effect:non-scaling-stroke"/>
<line x1="272" x2="385" y1="722" y2="722" style="vector-effect:non-scaling-stroke"/>
<line x1="272" x2="385" y1="875" y2="875" style="vector-effect:non-scaling-stroke"/>
<line x1="272" x2="385" y1="1027" y2="1027" style="vector-effect:non-scaling-stroke"/>
<line x1="272" x2="385" y1="1180" y2="1180" style="vector-effect:non-scaling-stroke"/>
<line x1="272" x2="385" y1="1330" y2="1330" style="vector-effect:non-scaling-stroke"/>
</g>
<!-- frequency bars -->
<g fill="none" stroke="#000" stroke-width="1.6">
<path style="vector-effect:non-scaling-stroke" d="M716,644H830V1482H716ZM716,728H830M716,812H830M716,895H830M716,979H830M716,1063H830M716,1147H830M716,1231H830M716,1314H830M716,1398H830"/>
<path style="vector-effect:non-scaling-stroke" d="M886,644H1000V1482H886ZM886,728H1000M886,812H1000M886,895H1000M886,979H1000M886,1063H1000M886,1147H1000M886,1231H1000M886,1314H1000M886,1398H1000"/>
<path style="vector-effect:non-scaling-stroke" d="M1056,644H1170V1482H1056ZM1056,728H1170M1056,812H1170M1056,895H1170M1056,979H1170M1056,1063H1170M1056,1147H1170M1056,1231H1170M1056,1314H1170M1056,1398H1170"/>
<path style="vector-effect:non-scaling-stroke" d="M1226,644H1340V1482H1226ZM1226,728H1340M1226,812H1340M1226,895H1340M1226,979H1340M1226,1063H1340M1226,1147H1340M1226,1231H1340M1226,1314H1340M1226,1398H1340"/>
</g>
<g fill="#ff4000">
<rect x="698" y="914" width="150" height="10"/>
<rect x="868" y="1235" width="150" height="8"/>
<rect x="1038" y="1235" width="150" height="8"/>
<rect x="1208" y="1252" width="150" height="8"/>
<rect x="1226" y="1258" width="114" height="20"/>
<rect x="1208" y="1276" width="150" height="8"/>
</g>
</g>

<!-- text -->
<text x="62" y="66" font-size="33" textLength="230" lengthAdjust="spacingAndGlyphs">March, 23 2020</text>
<text x="62" y="95" font-size="33" textLength="173" lengthAdjust="spacingAndGlyphs">0228:11 UT</text>
<text x="76" y="852" font-size="32" textLength="187" lengthAdjust="spacingAndGlyphs">Velocity (m/s)</text>
<g font-size="24" text-anchor="end">
<text x="136" y="896">100</text><text x="136" y="949">75</text><text x="136" y="1004">50</text><text x="136" y="1058">25</text><text x="136" y="1113">0</text><text x="136" y="1167">-25</text><text x="136" y="1221">-50</text><text x="136" y="1275">-75</text><text x="136" y="1329">-100</text>
</g>
<text x="203" y="916" font-size="25">toward</text>
<text x="203" y="1330" font-size="25">away</text>
<text x="204" y="1091" font-size="24">10</text>
<text x="203" y="1155" font-size="24">-10</text>
<text x="326" y="985" font-size="32" textLength="155" lengthAdjust="spacingAndGlyphs">Frequency</text>
<g font-size="28">
<text x="292" y="1017" textLength="51" lengthAdjust="spacingAndGlyphs">cvw</text>
<text x="350" y="1017" textLength="47" lengthAdjust="spacingAndGlyphs">cve</text>
<text x="407" y="1017" textLength="48" lengthAdjust="spacingAndGlyphs">fhw</text>
<text x="467" y="1017" textLength="41" lengthAdjust="spacingAndGlyphs">fhe</text>
</g>
<g font-size="23" text-anchor="end">
<text x="291" y="1042">18</text><text x="291" y="1072">17</text><text x="291" y="1102">16</text><text x="291" y="1132">15</text><text x="291" y="1162">14</text><text x="291" y="1192">13</text><text x="291" y="1221">12</text><text x="291" y="1251">11</text><text x="291" y="1281">10</text><text x="291" y="1311">9</text><text x="291" y="1341">8</text>
</g>
<g font-size="23" text-anchor="middle">
<text x="528" y="1042">18</text><text x="528" y="1072">17</text><text x="528" y="1102">16</text><text x="528" y="1132">15</text><text x="528" y="1162">14</text><text x="528" y="1192">13</text><text x="528" y="1221">12</text><text x="528" y="1251">11</text><text x="528" y="1281">10</text><text x="528" y="1311">9</text><text x="528" y="1341">8</text>
</g>
<g font-size="31">
<text x="1003" y="1393" textLength="55" lengthAdjust="spacingAndGlyphs">cvw</text>
<text x="1078" y="1393" textLength="50" lengthAdjust="spacingAndGlyphs">cve</text>
<text x="1659" y="1396" textLength="52" lengthAdjust="spacingAndGlyphs">fhw</text>
<text x="1730" y="1396" textLength="45" lengthAdjust="spacingAndGlyphs">fhe</text>
<text x="1079" y="1420" textLength="54" lengthAdjust="spacingAndGlyphs" style="fill:#f0f">b16</text>
<text x="1665" y="1421" textLength="53" lengthAdjust="spacingAndGlyphs" style="fill:#f0f">b07</text>
</g>
</svg>
</body></html>
